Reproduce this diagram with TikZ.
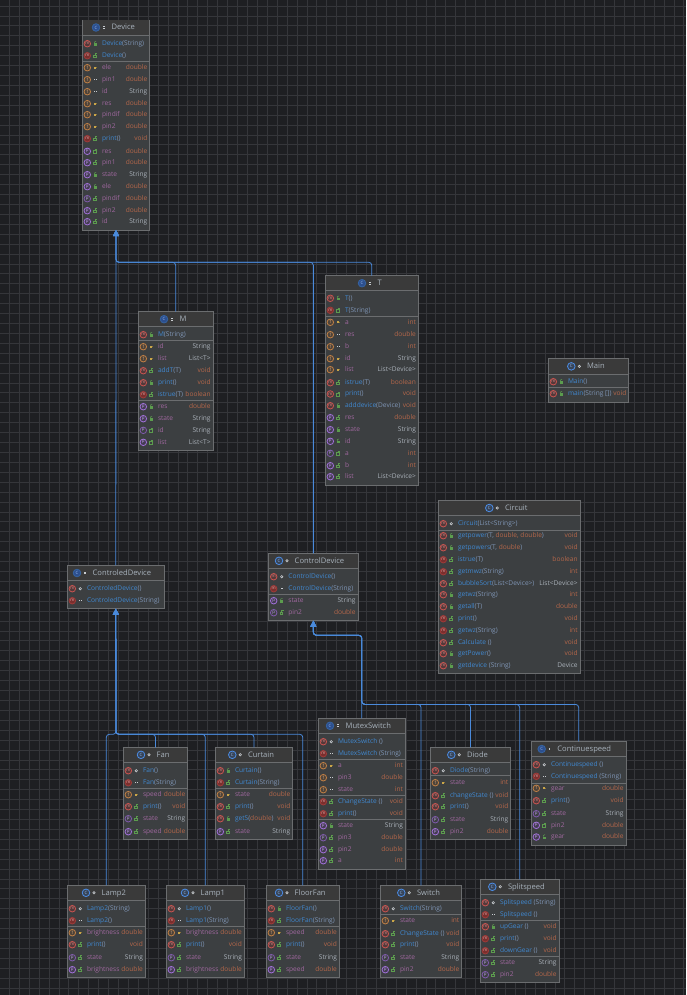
\documentclass[tikz,border=0pt]{standalone}
\usepackage{fontspec}
\setmainfont{Open Sans}
\usetikzlibrary{arrows.meta}
\definecolor{bgc}{HTML}{1E1F22}
\definecolor{gridc}{HTML}{35363A}
\definecolor{boxc}{HTML}{3C3F41}
\definecolor{headc}{HTML}{3A3A3A}
\definecolor{linec}{HTML}{6B6D6F}
\definecolor{edgec}{HTML}{4A8ADB}
\definecolor{methc}{HTML}{4088D0}
\definecolor{argc}{HTML}{7F95B5}
\definecolor{fieldc}{HTML}{A0689F}
\definecolor{typec}{HTML}{A9B0B8}
\definecolor{orgc}{HTML}{B5674A}
\definecolor{titlec}{HTML}{A8B2BC}
\definecolor{gvis}{HTML}{5C9C4E}
\definecolor{yvis}{HTML}{C9A64A}
\definecolor{wvis}{HTML}{C8CCD0}
\definecolor{mdraw}{HTML}{C75450}
\definecolor{mfill}{HTML}{54393A}
\definecolor{ndraw}{HTML}{9E3A38}
\definecolor{nfill}{HTML}{7A2F2E}
\definecolor{fdraw}{HTML}{C07F45}
\definecolor{ffill}{HTML}{4E4339}
\definecolor{pdraw}{HTML}{A070D8}
\definecolor{pfill}{HTML}{443C52}
\definecolor{cdraw}{HTML}{4C8DE6}
\definecolor{cfill}{HTML}{2D4F8E}
\tikzset{
  x=1pt,y=-1pt,
  boxstyle/.style={draw=linec,fill=boxc,line width=0.9pt,inner sep=0pt,outer sep=0pt,anchor=north west},
  rowtext/.style={inner sep=0pt,outer sep=0pt,font=\fontsize{6.6}{7}\selectfont,text height=5pt,text depth=1.5pt},
  titletext/.style={inner sep=0pt,outer sep=0pt,anchor=west,text=titlec,font=\fontsize{7.6}{8}\selectfont,text height=6pt,text depth=1.5pt},
  ico/.style={circle,inner sep=0pt,outer sep=0pt,minimum size=6.6pt,line width=0.8pt,font=\fontsize{4.4}{4.4}\selectfont},
  icom/.style={ico,draw=mdraw,fill=mfill,text=mdraw!70!white},
  icon/.style={ico,draw=ndraw,fill=nfill,text=mdraw!50!white},
  icof/.style={ico,draw=fdraw,fill=ffill,text=fdraw!70!white},
  icop/.style={ico,draw=pdraw,fill=pfill,text=pdraw!70!white},
  icoq/.style={ico,draw=pdraw!80!black,fill=boxc,text=pdraw!70!white},
  clsdark/.style={ico,minimum size=7.6pt,draw=cdraw!70!black,fill=cfill,text=cdraw!60!white},
  clslite/.style={ico,minimum size=7.6pt,draw=cdraw,fill=boxc!70!cfill,text=cdraw!60!white},
  edge/.style={draw=edgec,line width=0.8pt,rounded corners=3pt},
  arrowed/.style={-{Triangle[width=6pt,length=6pt]}},
}
\newcount\rn \rn=0
\newcommand\ot[1]{\textcolor{orgc}{#1}}
\newcommand\Vis[3]{% x y kind
  \if#3g\fill[gvis] (#1-1.6,#2-0.4) rectangle (#1+1.6,#2+2);\draw[gvis,line width=.5pt] (#1-1,#2-.4)--(#1-1,#2-1.6)--(#1+.8,#2-2.4);\fi
  \if#3d\draw[gvis,line width=.6pt] (#1-1.8,#2-.6) rectangle (#1+1,#2+2);\draw[gvis,line width=.5pt] (#1,#2-.6)--(#1,#2-2.2)--(#1+1.8,#2-2.2);\fi
  \if#3y\fill[yvis] (#1-1.6,#2-1) rectangle (#1+1,#2+1);\fill[yvis!70!black] (#1+1,#2-.4) rectangle (#1+2,#2+.4);\fi
  \if#3w\draw[wvis,line width=.6pt] (#1,#2) circle (1.2pt);\fi
  \if#3e\fill[wvis] (#1-1.2,#2-.6) rectangle (#1-.3,#2+.6);\fill[wvis] (#1+.4,#2-.6) rectangle (#1+1.3,#2+.6);\fi
}
% class box: name x0 y0 x1 y1 titlebottom iconx title kind(a/c)
\newcommand\Cls[9]{%
  \def\cx{#2}\def\cr{#4}%
  \pgfmathsetmacro\bw{#4-#2}\pgfmathsetmacro\bh{#5-#3}%
  \node[boxstyle,minimum width=\bw pt,minimum height=\bh pt] (#1) at (#2,#3) {};
  \fill[headc] (#2+.5,#3+.5) rectangle (#4-.5,#6);
  \draw[linec,line width=.8pt] (#2,#6) -- (#4,#6);
  \pgfmathsetmacro\tym{(#3+#6)/2}%
  \if#9a
    \node[clsdark] (#1ic) at (#7,\tym) {C};
    \fill[wvis] (#7+7.2,\tym-1.4) rectangle (#7+8.6,\tym-.4);
    \fill[wvis] (#7+7.2,\tym+.4) rectangle (#7+8.6,\tym+1.4);
  \else
    \node[clslite] (#1ic) at (#7,\tym) {C};
    \draw[wvis,line width=.6pt] (#7+8,\tym) circle (1.2pt);
  \fi
  \node[titletext] (#1ti) at (#7+15.7,\tym) {#8};
}
\newcommand\Sep[1]{\draw[linec,line width=.8pt] (\cx,#1) -- (\cr,#1);}
\newcommand\Row[6]{% y kind vis text color type
  \global\advance\rn by 1
  \node[ico#2] (ic\the\rn) at (\cx+5,#1) {\if#2nm\else\if#2qp\else#2\fi\fi};
  \Vis{\cx+13}{#1}{#3}
  \node[rowtext,anchor=west] (na\the\rn) at (\cx+19.7,#1) {#4};
  \if\relax\detokenize{#6}\relax\else
  \node[rowtext,anchor=east,text=typec] (ty\the\rn) at (\cr-2.4,#1) {#6};\fi
}
\newcommand\Me[6]{\Row{#1}{#2}{#3}{\textcolor{methc}{#4}\textcolor{argc}{#5}}{}{#6}}
\newcommand\Fi[5]{\Row{#1}{#2}{#3}{\textcolor{fieldc}{#4}}{}{#5}}
\newcommand\Dbl{\ot{double}}
\newcommand\Int{\ot{int}}
\newcommand\Vd{\ot{void}}
\newcommand\Bl{\ot{boolean}}
\begin{document}
\begin{tikzpicture}
\useasboundingbox (0,0) rectangle (686,995);
\fill[bgc] (0,0) rectangle (686,995);
\foreach \i in {0,...,69} {\draw[gridc,line width=.8pt] (9.3+9.92*\i,0) -- (9.3+9.92*\i,995);}
\foreach \i in {0,...,100} {\draw[gridc,line width=.8pt] (0,6+9.92*\i) -- (686,6+9.92*\i);}

% ---------- Device
\Cls{device}{82.3}{20}{149.7}{230}{35}{96}{Device}{a}
\Sep{61}
\Me{43.7}{m}{g}{Device}{(String)}{}
\Me{55.7}{n}{d}{Device}{()}{}
\Fi{67.7}{f}{y}{ele}{\Dbl}
\Fi{79.7}{f}{e}{pin1}{\Dbl}
\Fi{91.7}{f}{e}{id}{String}
\Fi{103.7}{f}{y}{res}{\Dbl}
\Fi{114.7}{f}{y}{pindif}{\Dbl}
\Fi{126.7}{f}{y}{pin2}{\Dbl}
\Me{138.7}{n}{d}{print}{()}{\Vd}
\Fi{151.3}{p}{d}{res}{\Dbl}
\Fi{162.7}{p}{d}{pin1}{\Dbl}
\Fi{174.7}{p}{g}{state}{String}
\Fi{186.7}{p}{g}{ele}{\Dbl}
\Fi{198.7}{q}{d}{pindif}{\Dbl}
\Fi{210.7}{p}{d}{pin2}{\Dbl}
\Fi{221.7}{p}{d}{id}{String}

% ---------- M
\Cls{mcls}{138.3}{311.7}{213}{450.3}{326.7}{164}{M}{a}
\Sep{340.7}\Sep{400.7}
\Me{334.7}{m}{g}{M}{(String)}{}
\Fi{346.7}{f}{y}{id}{String}
\Fi{358.7}{f}{y}{list}{List<T>}
\Me{370.7}{m}{d}{addT}{(T)}{\Vd}
\Me{382.7}{m}{g}{print}{()}{\Vd}
\Me{394.7}{n}{d}{istrue}{(T)}{\Bl}
\Fi{406.7}{p}{g}{res}{\Dbl}
\Fi{418.7}{p}{g}{state}{String}
\Fi{430.3}{q}{d}{id}{String}
\Fi{442.3}{p}{d}{list}{List<T>}

% ---------- T
\Cls{tcls}{325.3}{275.7}{418.3}{485}{290.7}{362}{T}{a}
\Sep{316.3}
\Me{298.3}{m}{g}{T}{()}{}
\Me{310.3}{n}{d}{T}{(String)}{}
\Fi{322.3}{f}{y}{a}{\Int}
\Fi{334.7}{f}{e}{res}{\Dbl}
\Fi{346.7}{f}{e}{b}{\Int}
\Fi{358.7}{f}{y}{id}{String}
\Fi{369.7}{f}{y}{list}{List<Device>}
\Me{382.7}{m}{d}{istrue}{(T)}{\Bl}
\Me{394}{m}{d}{print}{()}{\Vd}
\Me{405.7}{m}{g}{adddevice}{(Device)}{\Vd}
\Fi{417.7}{p}{d}{res}{\Dbl}
\Fi{429.7}{p}{g}{state}{String}
\Fi{441.3}{p}{g}{id}{String}
\Fi{453.3}{q}{d}{a}{\Int}
\Fi{465.7}{p}{d}{b}{\Int}
\Fi{476.7}{p}{d}{list}{List<Device>}

% ---------- Main
\Cls{maincls}{548.3}{358.7}{628.7}{402.3}{374}{571.3}{Main}{c}
\Sep{387.3}
\Me{381.7}{m}{g}{Main}{()}{}
\Me{393.7}{m}{g}{main}{(String [])}{\Vd}

% ---------- Circuit
\Cls{circuit}{438.3}{500.3}{580}{673.3}{515.7}{489.3}{Circuit}{c}
\Sep{530}
\Me{523.7}{m}{w}{Circuit}{(List<String>)}{}
\Me{535.7}{m}{g}{getpower}{(T, \ot{double, double})}{\Vd}
\Me{547.7}{m}{g}{getpowers}{(T, \ot{double})}{\Vd}
\Me{559.7}{n}{d}{istrue}{(T)}{\Bl}
\Me{571.7}{n}{d}{getmwz}{(String)}{\Int}
\Me{583.7}{m}{d}{bubbleSort}{(List<Device>)}{List<Device>}
\Me{594.7}{m}{g}{getwz}{(String)}{\Int}
\Me{606.7}{m}{g}{getall}{(T)}{\Dbl}
\Me{618.7}{n}{d}{print}{()}{\Vd}
\Me{630.7}{n}{d}{getwz}{(String)}{\Int}
\Me{642.7}{m}{d}{Calculate }{()}{\Vd}
\Me{653.7}{m}{g}{getPower}{()}{\Vd}
\Me{665.7}{m}{g}{getdevice }{(String)}{Device}

% ---------- ControledDevice
\Cls{controled}{67.3}{565.3}{164.3}{608.7}{580.7}{77}{ControledDevice}{a}
\Me{588.7}{m}{w}{ControledDevice}{()}{}
\Me{600.7}{n}{e}{ControledDevice}{(String)}{}

% ---------- ControlDevice
\Cls{control}{268.7}{553.3}{358}{620.7}{568.3}{279}{ControlDevice}{c}
\Sep{594.3}
\Me{576.7}{m}{w}{ControlDevice}{()}{}
\Me{588.7}{n}{e}{ControlDevice}{(String)}{}
\Fi{600.7}{p}{g}{state}{String}
\Fi{612.7}{q}{d}{pin2}{\Dbl}

% ---------- Fan
\Cls{fan}{123.3}{747.3}{187.7}{839}{762.3}{141}{Fan}{c}
\Sep{788.3}
\Me{770.7}{m}{w}{Fan}{()}{}
\Me{782.7}{n}{e}{Fan}{(String)}{}
\Fi{794.7}{f}{y}{speed}{\Dbl}
\Me{806.7}{m}{d}{print}{()}{\Vd}
\Fi{818.7}{q}{d}{state}{String}
\Fi{831.7}{p}{d}{speed}{\Dbl}

% ---------- Curtain
\Cls{curtain}{215.3}{747.3}{292.7}{839}{762.3}{232.3}{Curtain}{c}
\Sep{788.3}
\Me{770.7}{m}{g}{Curtain}{()}{}
\Me{782.7}{n}{d}{Curtain}{(String)}{}
\Fi{794.7}{f}{y}{state}{\Dbl}
\Me{806.7}{m}{d}{print}{()}{\Vd}
\Me{818.7}{m}{g}{getS}{(\ot{double})}{\Vd}
\Fi{831.7}{p}{d}{state}{String}

% ---------- MutexSwitch
\Cls{mutex}{318.3}{718.3}{405.3}{869.3}{733.3}{330}{MutexSwitch}{a}
\Sep{759.3}\Sep{795.3}\Sep{819.3}
\Me{741.7}{m}{w}{MutexSwitch }{()}{}
\Me{753.7}{n}{e}{MutexSwitch }{(String)}{}
\Fi{765.7}{f}{y}{a}{\Int}
\Fi{777.7}{f}{e}{pin3}{\Dbl}
\Fi{789.7}{f}{e}{state}{\Int}
\Me{801.7}{n}{d}{ChangeState }{()}{\Vd}
\Me{813.7}{n}{d}{print}{()}{\Vd}
\Fi{825.7}{p}{g}{state}{String}
\Fi{837.7}{q}{d}{pin3}{\Dbl}
\Fi{849.7}{p}{d}{pin2}{\Dbl}
\Fi{860.7}{p}{d}{a}{\Int}

% ---------- Diode
\Cls{diode}{430.3}{747.3}{510.7}{839.3}{762.3}{451.3}{Diode}{c}
\Sep{775.3}
\Me{770.7}{m}{w}{Diode}{(String)}{}
\Fi{782.7}{f}{y}{state}{\Int}
\Me{795.7}{m}{d}{changeState }{()}{\Vd}
\Me{806.7}{m}{d}{print}{()}{\Vd}
\Fi{819.7}{q}{d}{state}{String}
\Fi{831.7}{p}{d}{pin2}{\Dbl}

% ---------- Continuespeed
\Cls{contsp}{531.3}{741.3}{626}{845}{756.7}{541.7}{Continuespeed}{a}
\Sep{783.3}
\Me{764.7}{m}{w}{Continuespeed }{()}{}
\Me{776.3}{n}{e}{Continuespeed }{(String)}{}
\Fi{788.3}{f}{y}{gear}{\Dbl}
\Me{800.7}{m}{d}{print}{()}{\Vd}
\Fi{813.7}{q}{d}{state}{String}
\Fi{825.3}{p}{d}{pin2}{\Dbl}
\Fi{837}{p}{g}{gear}{\Dbl}

% ---------- Lamp2
\Cls{lamptwo}{67.3}{885.3}{145.3}{977.3}{900.3}{86}{Lamp2}{c}
\Sep{926}
\Me{908.7}{m}{w}{Lamp2}{(String)}{}
\Me{920.7}{n}{e}{Lamp2}{()}{}
\Fi{932.7}{f}{y}{brightness}{\Dbl}
\Me{944.7}{m}{d}{print}{()}{\Vd}
\Fi{957.7}{q}{d}{state}{String}
\Fi{969.7}{p}{d}{brightness}{\Dbl}

% ---------- Lamp1
\Cls{lampone}{166.3}{885.3}{244.3}{977.3}{900.3}{185}{Lamp1}{c}
\Sep{926}
\Me{908.7}{m}{w}{Lamp1}{()}{}
\Me{920.7}{n}{e}{Lamp1}{(String)}{}
\Fi{932.7}{f}{y}{brightness}{\Dbl}
\Me{944.7}{m}{d}{print}{()}{\Vd}
\Fi{957.7}{q}{d}{state}{String}
\Fi{969.7}{p}{d}{brightness}{\Dbl}

% ---------- FloorFan
\Cls{floorfan}{266.3}{885.3}{339.3}{977.3}{900.3}{279}{FloorFan}{c}
\Sep{926}
\Me{908.7}{m}{g}{FloorFan}{()}{}
\Me{920.7}{n}{d}{FloorFan}{(String)}{}
\Fi{932.7}{f}{y}{speed}{\Dbl}
\Me{944.7}{m}{d}{print}{()}{\Vd}
\Fi{957.7}{q}{d}{state}{String}
\Fi{969.7}{p}{d}{speed}{\Dbl}

% ---------- Switch
\Cls{switchc}{380.3}{885.3}{461.7}{977.3}{900.3}{401.3}{Switch}{c}
\Sep{914.3}
\Me{908.7}{m}{w}{Switch}{(String)}{}
\Fi{920.7}{f}{y}{state}{\Int}
\Me{933.7}{m}{d}{ChangeState }{()}{\Vd}
\Me{944.7}{m}{d}{print}{()}{\Vd}
\Fi{957.7}{q}{d}{state}{String}
\Fi{969.7}{p}{d}{pin2}{\Dbl}

% ---------- Splitspeed
\Cls{splitsp}{480.3}{879.3}{559}{982.3}{894.3}{492.3}{Splitspeed}{c}
\Sep{920.3}\Sep{956.3}
\Me{902.7}{m}{w}{Splitspeed }{(String)}{}
\Me{914.7}{n}{e}{Splitspeed }{()}{}
\Me{926.7}{m}{g}{upGear }{()}{\Vd}
\Me{938.7}{n}{d}{print}{()}{\Vd}
\Me{950.7}{n}{d}{downGear }{()}{\Vd}
\Fi{962.7}{q}{d}{state}{String}
\Fi{974.7}{q}{d}{pin2}{\Dbl}

% ---------- connectors
\coordinate (devbus) at (116,262.3);
\coordinate (lowbus) at (116,734.3);
\coordinate (upa) at (361.8,704.4);
\coordinate (upb) at (361.8,635.3);
\draw[edge,arrowed] (controled.north) -- (device.south);
\draw[edge,arrowed] (mcls.north) |- (devbus) -- (device.south);
\draw[edge,arrowed] (control.north) |- (devbus) -- (device.south);
\draw[edge,arrowed] (tcls.north) |- (devbus) -- (device.south);
\foreach \c in {lamptwo,fan,lampone,curtain,floorfan,}
  {\ifx\c\empty\else\draw[edge,arrowed] (\c.north) |- (lowbus) -- (controled.south);\fi}
\foreach \c in {mutex,switchc,diode,splitsp,contsp}
  {\draw[edge,arrowed] (\c.north) |- (upa) -- (upb) -| (control.south);}
\end{tikzpicture}
\end{document}
